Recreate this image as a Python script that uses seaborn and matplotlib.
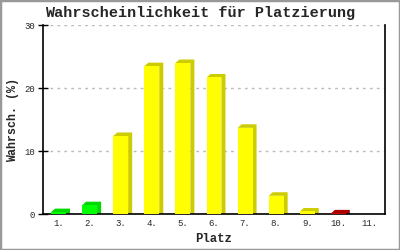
import matplotlib
matplotlib.use("Agg")
import matplotlib.pyplot as plt
import seaborn as sns
import pandas as pd
from matplotlib.patches import Polygon, Rectangle

categories = ["1.", "2.", "3.", "4.", "5.", "6.", "7.", "8.", "9.", "10.", "11."]
values = [0.3, 1.4, 12.4, 23.5, 24.0, 21.7, 13.7, 2.9, 0.4, 0.1, 0.0]
front_colors = ["#00ff00", "#00ff00", "#ffff00", "#ffff00", "#ffff00", "#ffff00",
                "#ffff00", "#ffff00", "#ffff00", "#cc0000", "#cc0000"]
side_colors = ["#00d800", "#00d800", "#cccc00", "#cccc00", "#cccc00", "#cccc00",
               "#cccc00", "#cccc00", "#cccc00", "#aa0000", "#aa0000"]
y_ticks = [0, 10, 20, 30]

sns.set_theme(style="white")
plt.rcParams["font.family"] = ["Liberation Mono", "DejaVu Sans Mono"]

df = pd.DataFrame({"Platz": categories, "Wert": values})

fig = plt.figure(figsize=(4, 2.5), dpi=100)
fig.patch.set_facecolor("white")
ax = fig.add_axes([0.1075, 0.144, 0.855, 0.755])

sns.barplot(data=df, x="Platz", y="Wert", hue="Platz", palette=front_colors,
            legend=False, width=0.48, saturation=1, ax=ax, zorder=3,
            linewidth=0, edgecolor="none")

ax.set_xlim(-0.5, len(categories) - 0.5)
ax.set_ylim(0, 30)

# 3D side/top faces, derived from the seaborn bars
px_x = (0.855 * 400) / len(categories)
px_y = (0.755 * 250) / 30
dx = 4 / px_x
dy = 3.5 / px_y
for i, p in enumerate(list(ax.patches)):
    h = p.get_height()
    if h <= 0:
        continue
    x0 = p.get_x()
    w = p.get_width()
    poly = Polygon([(x0, h), (x0 + dx, h + dy), (x0 + w + dx, h + dy),
                    (x0 + w + dx, 0), (x0 + w, 0), (x0 + w, h)],
                   closed=True, facecolor=side_colors[i], edgecolor="none",
                   zorder=2.5, clip_on=False)
    ax.add_patch(poly)

ax.set_yticks(y_ticks)
ax.set_yticklabels([str(t) for t in y_ticks])
ax.yaxis.grid(True, linestyle=(0, (2, 3)), color="#bbbbbb", linewidth=1)
ax.xaxis.grid(False)
ax.set_axisbelow(True)

for s in ["left", "bottom", "right"]:
    ax.spines[s].set_visible(True)
    ax.spines[s].set_color("black")
    ax.spines[s].set_linewidth(1.2)
ax.spines["top"].set_visible(False)

ax.tick_params(axis="y", direction="inout", length=7.5, width=1, color="black",
               labelsize=6.5, pad=2, left=True, right=False)
ax.tick_params(axis="x", length=0, labelsize=6.5, pad=3.5)
for lab in ax.get_xticklabels() + ax.get_yticklabels():
    lab.set_family(["Liberation Mono", "DejaVu Sans Mono"])

ax.set_xlabel("Platz", fontsize=8.8, fontweight="bold", labelpad=4)
ax.set_ylabel("Wahrsch. (%)", fontsize=8.4, fontweight="bold", labelpad=3.5)

fig.text(0.5, 1 - 13.5 / 250, "Wahrscheinlichkeit für Platzierung",
         ha="center", va="center", fontsize=10.9, fontweight="bold",
         family=["Liberation Mono", "DejaVu Sans Mono"])

fig.add_artist(Rectangle((0, 0), 1, 1, transform=fig.transFigure,
                         fill=False, edgecolor="#999999", linewidth=2.5))

fig.savefig("out.png", dpi=100)
